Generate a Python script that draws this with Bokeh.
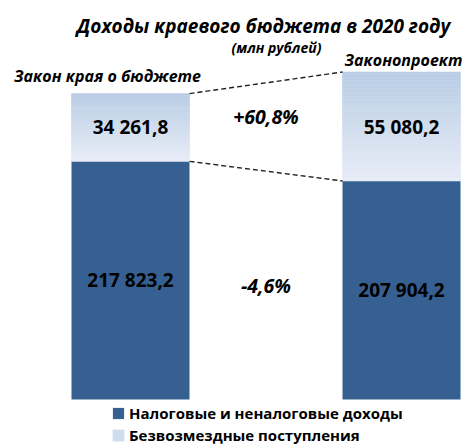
from bokeh.plotting import figure
from bokeh.models import Range1d, Label, Legend, LegendItem, ColumnDataSource
from bokeh.core.properties import value
from bokeh.embed import file_html
from bokeh.resources import INLINE

# ---- data ----
categories = ["Закон края о бюджете", "Законопроект"]
tax_income = [217823.2, 207904.2]      # Налоговые и неналоговые доходы
gratuitous = [34261.8, 55080.2]        # Безвозмездные поступления
series_names = ["Налоговые и неналоговые доходы", "Безвозмездные поступления"]
title_text = "Доходы краевого бюджета в 2020 году"
subtitle_text = "(млн рублей)"

# value axis of the original chart does not start at zero
AXIS_MIN = 97430
Y_START, Y_END = 74180, 299150

FONT = "Open Sans"
DARK = "#376092"
LIGHT_TOP = (185, 205, 229)
LIGHT_BOTTOM = (232, 237, 247)
BAR_W = 0.4354

xs = list(range(len(categories)))
totals = [a + b for a, b in zip(tax_income, gratuitous)]

p = figure(width=468, height=445, output_backend="svg", toolbar_location=None,
           x_range=Range1d(-0.4797, 1.2472), y_range=Range1d(Y_START, Y_END),
           x_axis_location=None, y_axis_location=None, min_border=0,
           outline_line_color=None)
p.grid.visible = False
p.background_fill_color = "white"

# lower segment
dark = p.vbar(x=xs, bottom=AXIS_MIN, top=tax_income, width=BAR_W,
              fill_color=DARK, line_color=None)

# upper segment with vertical gradient (drawn as thin bands)
N = 40
gx, gb, gt, gc = [], [], [], []
for i in xs:
    lo, hi = tax_income[i], totals[i]
    for k in range(N):
        t0 = k / N
        t1 = (k + 1) / N
        f = (t0 + t1) / 2
        col = tuple(round(LIGHT_BOTTOM[c] + (LIGHT_TOP[c] - LIGHT_BOTTOM[c]) * f) for c in range(3))
        gx.append(i)
        gb.append(lo + (hi - lo) * t0)
        gt.append(lo + (hi - lo) * t1)
        gc.append("#%02x%02x%02x" % col)
gsrc = ColumnDataSource(dict(x=gx, bottom=gb, top=gt, color=gc))
grad = p.vbar(x="x", bottom="bottom", top="top", width=BAR_W, source=gsrc,
              fill_color="color", line_color="color", line_width=0.6)

# dashed connectors
p.segment(x0=[xs[0] + BAR_W / 2] * 2, y0=[totals[0], tax_income[0]],
          x1=[xs[1] - BAR_W / 2] * 2, y1=[totals[1], tax_income[1]],
          line_color="#222222", line_width=1.4, line_dash="5 3")

def fmt(v):
    return f"{v:,.1f}".replace(",", " ").replace(".", ",")

mid_lo = [(AXIS_MIN + t) / 2 for t in tax_income]
mid_hi = [(a + b) / 2 for a, b in zip(tax_income, totals)]
p.text(x=xs + xs, y=mid_lo + mid_hi,
       text=[fmt(v) for v in tax_income] + [fmt(v) for v in gratuitous],
       text_align="center", text_baseline="middle", text_color="black",
       text_font=value(FONT), text_font_style="bold", text_font_size="19px")

# percentage changes
pct_hi = (gratuitous[1] / gratuitous[0] - 1) * 100
pct_lo = (tax_income[1] / tax_income[0] - 1) * 100
p.text(x=[0.5], y=[sum(mid_hi) / 2], text=[f"{pct_hi:+.1f}%".replace(".", ",")],
       y_offset=-10, text_align="center", text_baseline="middle", text_color="black",
       text_font=value(FONT), text_font_style="bold italic", text_font_size="19.5px")
p.text(x=[0.5], y=[sum(mid_lo) / 2], text=[f"{pct_lo:+.1f}%".replace(".", ",")],
       text_align="center", text_baseline="middle", text_color="black",
       text_font=value(FONT), text_font_style="bold italic", text_font_size="19.5px")

# category labels above bars
p.add_layout(Label(x=xs[0], y=totals[0], text=categories[0], x_offset=-23, y_offset=18,
                   text_align="center", text_baseline="middle", text_font=FONT,
                   text_font_style="bold italic", text_font_size="16px", text_color="black"))
p.add_layout(Label(x=xs[1], y=totals[1], text=categories[1], x_offset=2, y_offset=12,
                   text_align="center", text_baseline="middle", text_font=FONT,
                   text_font_style="bold italic", text_font_size="16px", text_color="black"))

# title and subtitle
p.add_layout(Label(x=263, y=420, x_units="screen", y_units="screen", text=title_text,
                   text_align="center", text_baseline="middle", text_font=FONT,
                   text_font_style="bold italic", text_font_size="19px", text_color="black"))
p.add_layout(Label(x=276, y=398, x_units="screen", y_units="screen", text=subtitle_text,
                   text_align="center", text_baseline="middle", text_font=FONT,
                   text_font_style="bold italic", text_font_size="14px", text_color="black"))

legend = Legend(items=[LegendItem(label=series_names[0], renderers=[dark]),
                       LegendItem(label=series_names[1], renderers=[grad], index=N // 2)],
                location=(111, 0), orientation="vertical",
                label_text_font=FONT, label_text_font_style="bold", label_text_font_size="15px",
                label_text_color="black", glyph_width=14, glyph_height=14, label_height=18,
                spacing=2, padding=0, margin=0, label_standoff=4,
                border_line_alpha=0, background_fill_alpha=0)
p.add_layout(legend)

open("out.html", "w").write(file_html(p, INLINE))
